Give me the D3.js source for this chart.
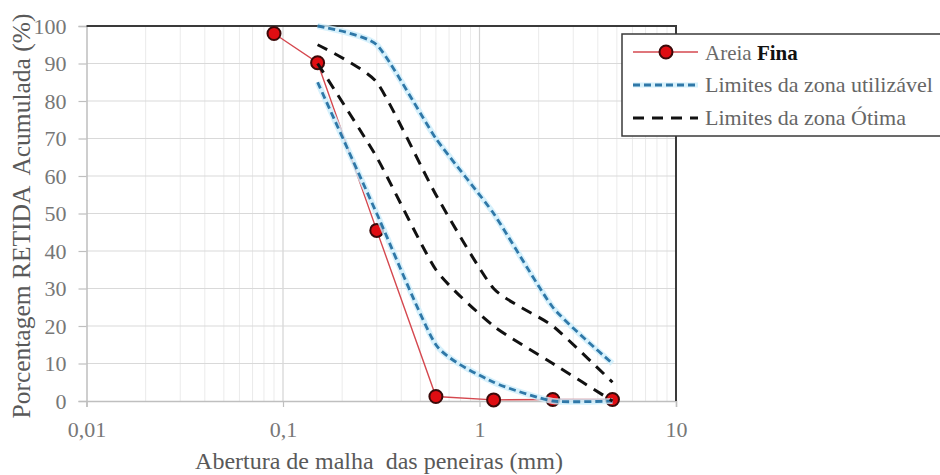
<!DOCTYPE html>
<html>
<head>
<meta charset="utf-8">
<script src="https://cdn.jsdelivr.net/npm/d3@7"></script>
<style>
  html, body { margin: 0; padding: 0; background: #fff; }
  svg { display: block; }
  text { font-family: "Liberation Serif", "Times New Roman", serif; white-space: pre; }
</style>
</head>
<body>
<svg id="chart" width="940" height="475"></svg>
<script>
// Sieve openings (mm) and cumulative retained percentages
const sieves = [0.09, 0.15, 0.3, 0.6, 1.18, 2.36, 4.75];
const areiaFina = [98, 90.2, 45.5, 1.2, 0.3, 0.4, 0.4];

// NBR 7211 grading limits
const limitSieves = [0.15, 0.3, 0.6, 1.18, 2.36, 4.75];
const utilInferior = [85, 50, 15, 5, 0, 0];
const utilSuperior = [100, 95, 70, 50, 25, 10];
const otimaInferior = [90, 65, 35, 20, 10, 0];
const otimaSuperior = [95, 85, 55, 30, 20, 5];

const yTicks = [0, 10, 20, 30, 40, 50, 60, 70, 80, 90, 100];
const xTicks = [0.01, 0.1, 1, 10];
const xTickLabels = ["0,01", "0,1", "1", "10"];

const serif = "'Liberation Serif', 'Times New Roman', serif";
const svg = d3.select("#chart");
const plotLeft = 86.5, plotRight = 676, plotTop = 26, plotBottom = 401;

const x = d3.scaleLog().domain([0.01, 10]).range([plotLeft, plotRight]);
const y = d3.scaleLinear().domain([0, 100]).range([plotBottom, plotTop]);

// minor vertical gridlines (2..9 within each decade)
const minor = [];
for (let d = 0.01; d < 10; d *= 10) for (let k = 2; k <= 9; k++) minor.push(d * k);
svg.append("g").selectAll("line").data(minor).join("line")
  .attr("x1", d => x(d)).attr("x2", d => x(d))
  .attr("y1", plotTop).attr("y2", plotBottom)
  .attr("stroke", "#ebebeb").attr("stroke-width", 1);

// major vertical gridlines
svg.append("g").selectAll("line").data(xTicks.slice(1, -1)).join("line")
  .attr("x1", d => x(d)).attr("x2", d => x(d))
  .attr("y1", plotTop).attr("y2", plotBottom)
  .attr("stroke", "#d4d4d4").attr("stroke-width", 1.2);

// horizontal gridlines
svg.append("g").selectAll("line").data(yTicks.slice(1, -1)).join("line")
  .attr("x1", plotLeft).attr("x2", plotRight)
  .attr("y1", d => y(d)).attr("y2", d => y(d))
  .attr("stroke", "#d9d9d9").attr("stroke-width", 1.2);

// left axis
const yAxis = svg.append("g").attr("transform", `translate(${plotLeft},0)`)
  .attr("font-family", serif)
  .call(d3.axisLeft(y).tickValues(yTicks).tickSize(8).tickPadding(12).tickFormat(d3.format("d")));
yAxis.attr("font-family", serif);
yAxis.select(".domain").attr("stroke", "#bfbfbf").attr("stroke-width", 1.5);
yAxis.selectAll(".tick line").attr("stroke", "#bfbfbf").attr("stroke-width", 1.2);
yAxis.selectAll(".tick text").attr("fill", "#777")
  .attr("font-family", serif).style("font-size", "22px");

// bottom axis
const xAxis = svg.append("g").attr("transform", `translate(0,${plotBottom})`)
  .call(d3.axisBottom(x).tickValues(xTicks).tickSize(6).tickPadding(14)
    .tickFormat((d, i) => xTickLabels[i]));
xAxis.attr("font-family", serif);
xAxis.select(".domain").attr("stroke", "#bfbfbf").attr("stroke-width", 1.5);
xAxis.selectAll(".tick line").attr("stroke", "#bfbfbf").attr("stroke-width", 1.2);
xAxis.selectAll(".tick text").attr("fill", "#777")
  .attr("font-family", serif).style("font-size", "22px");

// top and right frame
svg.append("line").attr("x1", plotLeft).attr("x2", plotRight + 1).attr("y1", plotTop).attr("y2", plotTop)
  .attr("stroke", "#3a3a3a").attr("stroke-width", 2);
svg.append("line").attr("x1", plotRight).attr("x2", plotRight).attr("y1", plotTop).attr("y2", plotBottom)
  .attr("stroke", "#3a3a3a").attr("stroke-width", 2);

// Areia Fina series: straight segments with markers
const fina = sieves.map((s, i) => [s, areiaFina[i]]);
svg.append("path").datum(fina)
  .attr("d", d3.line().x(d => x(d[0])).y(d => y(d[1])))
  .attr("fill", "none").attr("stroke", "#d5484f").attr("stroke-width", 1.4);
svg.append("g").selectAll("circle").data(fina).join("circle")
  .attr("cx", d => x(d[0])).attr("cy", d => y(d[1])).attr("r", 6.5)
  .attr("fill", "#e00d12").attr("stroke", "#3b0a0a").attr("stroke-width", 2);

// smoothed limit curves
const smooth = d3.line().x(d => x(d[0])).y(d => y(d[1])).curve(d3.curveCardinal.tension(0.45));
const pairs = vals => limitSieves.map((s, i) => [s, vals[i]]);

[utilInferior, utilSuperior].forEach(vals => {
  svg.append("path").datum(pairs(vals)).attr("d", smooth)
    .attr("fill", "none").attr("stroke", "#cdeefb").attr("stroke-width", 6).attr("opacity", 0.8);
});
[utilInferior, utilSuperior].forEach(vals => {
  svg.append("path").datum(pairs(vals)).attr("d", smooth)
    .attr("fill", "none").attr("stroke", "#2f78a8").attr("stroke-width", 2.8)
    .attr("stroke-dasharray", "7,4");
});
[otimaInferior, otimaSuperior].forEach(vals => {
  svg.append("path").datum(pairs(vals)).attr("d", smooth)
    .attr("fill", "none").attr("stroke", "#111").attr("stroke-width", 3)
    .attr("stroke-dasharray", "11,8");
});

// legend
const lg = svg.append("g");
lg.append("rect").attr("x", 622).attr("y", 34).attr("width", 330).attr("height", 102)
  .attr("fill", "#fff").attr("stroke", "#3a3a3a").attr("stroke-width", 1.5);
const rows = [52, 85, 118];
lg.append("line").attr("x1", 633).attr("x2", 698).attr("y1", rows[0]).attr("y2", rows[0])
  .attr("stroke", "#d5484f").attr("stroke-width", 1.4);
lg.append("circle").attr("cx", 666).attr("cy", rows[0]).attr("r", 6.5)
  .attr("fill", "#e00d12").attr("stroke", "#3b0a0a").attr("stroke-width", 2);
lg.append("line").attr("x1", 633).attr("x2", 698).attr("y1", rows[1]).attr("y2", rows[1])
  .attr("stroke", "#cdeefb").attr("stroke-width", 5).attr("opacity", 0.8);
lg.append("line").attr("x1", 633).attr("x2", 698).attr("y1", rows[1]).attr("y2", rows[1])
  .attr("stroke", "#2f78a8").attr("stroke-width", 2.8).attr("stroke-dasharray", "7,4");
lg.append("line").attr("x1", 633).attr("x2", 698).attr("y1", rows[2]).attr("y2", rows[2])
  .attr("stroke", "#111").attr("stroke-width", 3).attr("stroke-dasharray", "11,8");

const t1 = lg.append("text").attr("x", 705).attr("y", rows[0] + 8)
  .attr("font-family", serif).style("font-size", "21px");
t1.append("tspan").attr("fill", "#6a6a6a").text("Areia ");
t1.append("tspan").attr("fill", "#111").attr("font-weight", "bold").text("Fina");
lg.append("text").attr("x", 705).attr("y", rows[1] + 7).attr("fill", "#666")
  .attr("font-family", serif).style("font-size", "22px").text("Limites da zona utilizável");
lg.append("text").attr("x", 705).attr("y", rows[2] + 7).attr("fill", "#666")
  .attr("font-family", serif).style("font-size", "22px").text("Limites da zona Ótima");

// axis titles
svg.append("text").attr("x", 379).attr("y", 469).attr("text-anchor", "middle")
  .attr("fill", "#595959").attr("font-family", serif).style("font-size", "24px")
  .text("Abertura de malha  das peneiras (mm)");
svg.append("text").attr("transform", "translate(30,216) rotate(-90)").attr("text-anchor", "middle")
  .attr("fill", "#595959").attr("font-family", serif).style("font-size", "25.5px")
  .text("Porcentagem RETIDA  Acumulada (%)");
</script>
</body>
</html>
